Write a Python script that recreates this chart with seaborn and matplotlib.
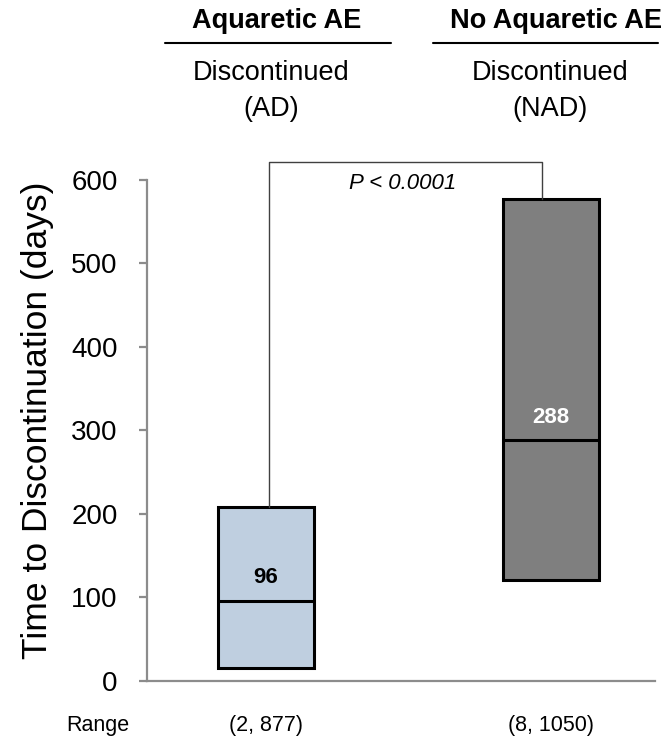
import matplotlib
matplotlib.use("Agg")
import matplotlib.pyplot as plt
import seaborn as sns
import pandas as pd

# Time to discontinuation summary per group (days)
groups = ["AD", "NAD"]
q1 = [15, 121]
median = [96, 288]
q3 = [208, 577]
ranges = ["(2, 877)", "(8, 1050)"]
headers = ["Aquaretic AE", "No Aquaretic AE"]
subheaders = ["Discontinued\n(AD)", "Discontinued\n(NAD)"]
colors = ["#bfcfe0", "#7f7f7f"]
median_label_colors = ["black", "white"]
p_text = "P < 0.0001"
yticks = [0, 100, 200, 300, 400, 500, 600]

sns.set_theme(style="white")
plt.rcParams["font.family"] = ["Liberation Sans", "DejaVu Sans"]
plt.rcParams["text.color"] = "black"
plt.rcParams["axes.labelcolor"] = "black"

df = pd.DataFrame({"group": groups, "q1": q1, "median": median, "q3": q3})
df["iqr"] = df["q3"] - df["q1"]

fig = plt.figure(figsize=(6.66, 7.48), dpi=100)
ax = fig.add_axes([0.2207, 0.0896, 0.7628, 0.6698])

box_w = 0.337
# floating boxes spanning the interquartile range
for i, g in enumerate(groups):
    sub = df[df["group"] == g]
    sns.barplot(data=sub, x="group", y="iqr", order=groups,
                bottom=float(sub["q1"].iloc[0]), width=box_w, errorbar=None,
                color=colors[i], saturation=1, edgecolor="black",
                linewidth=2.2, ax=ax)

# median lines and labels
for x, (m, c) in enumerate(zip(median, median_label_colors)):
    ax.hlines(m, x - box_w / 2, x + box_w / 2, color="black", lw=2.2, zorder=5)
    ax.text(x, m + 28, str(m), ha="center", va="center", fontsize=16,
            fontweight="bold", color=c, zorder=6)

# significance bracket
bracket_y = 621
ax.plot([0.01, 0.01, 0.97, 0.97], [q3[0], bracket_y, bracket_y, q3[1]],
        color="#404040", lw=1.0, clip_on=False, zorder=1)
ax.text(0.48, 596, p_text, ha="center", va="center", fontsize=16,
        style="italic", color="black")

ax.set_xlim(-0.4175, 1.365)
ax.set_ylim(0, 600)
ax.set_yticks(yticks)
ax.set_yticklabels([str(t) for t in yticks], fontsize=20)
ax.set_xticks([])
ax.set_xlabel("")
ax.set_ylabel("Time to Discontinuation (days)", fontsize=25.5)
ax.yaxis.set_label_coords(-0.183, 0.52)
for s in ["top", "right"]:
    ax.spines[s].set_visible(False)
for s in ["left", "bottom"]:
    ax.spines[s].set_color("#8c8c8c")
    ax.spines[s].set_linewidth(1.6)
ax.tick_params(axis="y", which="major", left=True, length=6, width=1.6,
               color="#8c8c8c", pad=15, labelcolor="black")

# group headers above the plot
head_x = [277, 556]
sub_x = [271, 550]
for hx, sx, h, sh in zip(head_x, sub_x, headers, subheaders):
    fig.text(hx / 666, 1 - 21 / 748, h, ha="center", va="center",
             fontsize=19.5, fontweight="bold")
    fig.text(sx / 666, 1 - 91 / 748, sh, ha="center", va="center",
             fontsize=19.5, linespacing=1.55)
for x0, x1 in [(165, 391), (433, 658)]:
    fig.add_artist(plt.Line2D([x0 / 666, x1 / 666], [1 - 43 / 748] * 2,
                              color="black", lw=1.5))

# range row
fig.text(98 / 666, 1 - 726 / 748, "Range", ha="center", va="center", fontsize=15.5)
for x, r in enumerate(ranges):
    fx = ax.transData.transform((x, 0))[0] / fig.bbox.width
    fig.text(fx, 1 - 726 / 748, r, ha="center", va="center", fontsize=15.5)

fig.savefig("out.png", dpi=100)
